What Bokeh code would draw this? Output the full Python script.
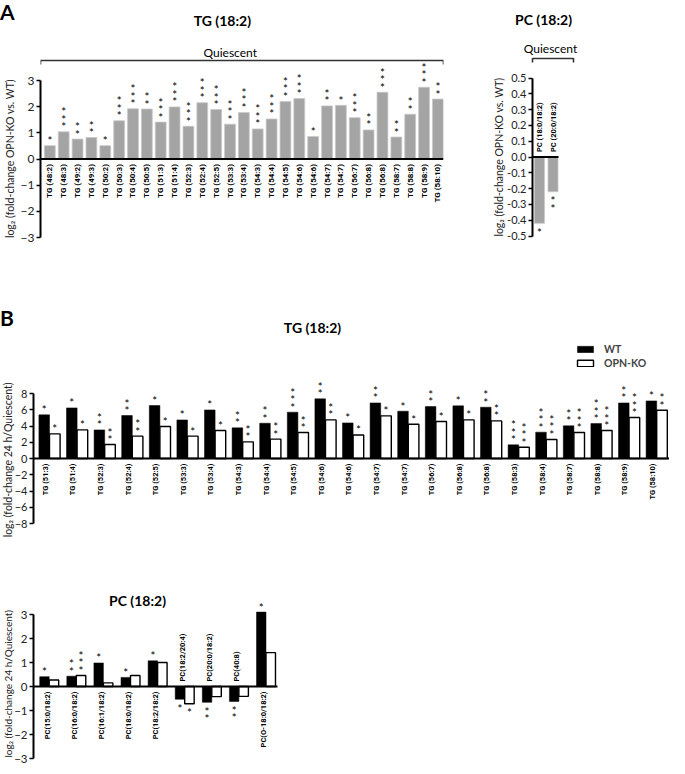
import math
from bokeh.plotting import figure
from bokeh.models import (Range1d, FixedTicker, PrintfTickFormatter, Label,
                          Legend, LegendItem, ColumnDataSource, Span, Div)
from bokeh.layouts import column, row
from bokeh.embed import file_html
from bokeh.resources import INLINE
from bokeh.core.properties import value

# ---------------- data ----------------
# Panel A (left): TG (18:2), quiescent cells, log2 fold-change OPN-KO vs WT
a_tg_labels = ["TG (48:2)", "TG (48:3)", "TG (49:2)", "TG (49:3)", "TG (50:2)",
               "TG (50:3)", "TG (50:4)", "TG (50:5)", "TG (51:3)", "TG (51:4)",
               "TG (52:3)", "TG (52:4)", "TG (52:5)", "TG (53:3)", "TG (53:4)",
               "TG (54:3)", "TG (54:4)", "TG (54:5)", "TG (54:6)", "TG (54:6)",
               "TG (54:7)", "TG (54:7)", "TG (56:7)", "TG (56:8)", "TG (56:8)",
               "TG (58:7)", "TG (58:8)", "TG (58:9)", "TG (58:10)"]
a_tg_values = [0.51, 1.04, 0.76, 0.82, 0.51, 1.46, 1.92, 1.91, 1.41, 1.99,
               1.25, 2.15, 1.89, 1.33, 1.78, 1.15, 1.53, 2.20, 2.31, 0.86,
               2.03, 2.05, 1.58, 1.11, 2.55, 0.84, 1.71, 2.74, 2.29]
a_tg_stars = [1, 3, 2, 2, 1, 3, 3, 2, 3, 3, 3, 3, 3, 3, 3,
              3, 3, 3, 3, 1, 2, 1, 3, 2, 3, 2, 2, 3, 2]

# Panel A (right): PC (18:2), quiescent, log2 fold-change OPN-KO vs WT
a_pc_labels = ["PC (18:0/18:2)", "PC (20:0/18:2)"]
a_pc_values = [-0.42, -0.22]
a_pc_stars = [1, 2]

# Panel B (top): TG (18:2), log2 fold-change 24 h / quiescent
b_tg_labels = ["TG (51:3)", "TG (51:4)", "TG (52:3)", "TG (52:4)", "TG (52:5)",
               "TG (53:3)", "TG (53:4)", "TG (54:3)", "TG (54:4)", "TG (54:5)",
               "TG (54:6)", "TG (54:6)", "TG (54:7)", "TG (54:7)", "TG (56:7)",
               "TG (56:8)", "TG (56:8)", "TG (58:3)", "TG (58:4)", "TG (58:7)",
               "TG (58:8)", "TG (58:9)", "TG (58:10)"]
b_tg_wt = [5.37, 6.23, 3.52, 5.29, 6.52, 4.75, 5.98, 3.77, 4.34, 5.70,
           7.34, 4.38, 6.84, 5.82, 6.39, 6.48, 6.31, 1.68, 3.24, 4.02,
           4.30, 6.84, 7.09]
b_tg_ko = [3.03, 3.52, 1.72, 2.75, 3.93, 2.75, 3.44, 2.05, 2.38, 3.20,
           4.75, 2.90, 5.25, 4.22, 4.55, 4.75, 4.63, 1.39, 2.34, 3.20,
           3.44, 5.04, 5.94]
b_tg_wt_stars = [1, 1, 2, 2, 1, 1, 1, 2, 2, 3, 2, 1, 2, 1, 2, 1, 2, 3, 3, 2, 3, 2, 1]
b_tg_ko_stars = [1, 1, 2, 2, 1, 1, 1, 2, 2, 2, 2, 1, 1, 1, 1, 1, 2, 3, 3, 3, 3, 3, 2]

# Panel B (bottom): PC (18:2), log2 fold-change 24 h / quiescent
b_pc_labels = ["PC(15:0/18:2)", "PC(16:0/18:2)", "PC(16:1/18:2)", "PC(18:0/18:2)",
               "PC(18:2/18:2)", "PC(18:2/20:4)", "PC(20:0/18:2)", "PC(40:8)",
               "PC(O-18:0/18:2)"]
b_pc_wt = [0.41, 0.43, 0.98, 0.38, 1.07, -0.53, -0.66, -0.62, 3.10]
b_pc_ko = [0.27, 0.46, 0.15, 0.46, 1.00, -0.72, -0.42, -0.41, 1.41]
b_pc_wt_stars = [1, 2, 1, 1, 1, 1, 2, 2, 1]
b_pc_ko_stars = [0, 3, 0, 0, 0, 1, 0, 0, 0]

series_names = ["WT", "OPN-KO"]
a_tg_ticks = [-3, -2, -1, 0, 1, 2, 3]
a_pc_ticks = [-0.5, -0.4, -0.3, -0.2, -0.1, 0.0, 0.1, 0.2, 0.3, 0.4, 0.5]
b_tg_ticks = [-8, -6, -4, -2, 0, 2, 4, 6, 8]
b_pc_ticks = [-3, -2, -1, 0, 1, 2, 3]

YLAB_A = "log\u2082 (fold-change OPN-KO vs. WT)"
YLAB_B = "log\u2082 (fold-change  24 h/Quiescent)"

# ---------------- style ----------------
FONT = "Lato"
CAT_FONT = "Roboto"
GREY = "#a4a4a4"


def lin(pa, va, pb, vb):
    k = (vb - va) / (pb - pa)
    return lambda px: va + (px - pa) * k


def base_fig(width, height, xr, yr, left, right):
    p = figure(width=width, height=height, x_range=xr, y_range=yr,
               output_backend="svg", toolbar_location=None, x_axis_location=None,
               min_border_left=left, min_border_right=right,
               min_border_top=0, min_border_bottom=0)
    p.grid.visible = False
    p.outline_line_color = None
    return p


def style_y(p, ticks, label, tick_size="11.5px", fmt=None, label_size="10.5px"):
    ax = p.yaxis[0]
    ax.bounds = (min(ticks), max(ticks))
    ax.ticker = FixedTicker(ticks=ticks)
    ax.minor_tick_line_color = None
    ax.major_tick_out = 4
    ax.major_tick_in = 0
    ax.major_tick_line_width = 1.5
    ax.axis_line_width = 2
    ax.axis_line_color = "black"
    ax.major_tick_line_color = "black"
    ax.major_label_text_font = FONT
    ax.major_label_text_font_size = tick_size
    ax.major_label_text_color = "#222222"
    ax.major_label_standoff = 2
    if label:
        ax.axis_label = label
        ax.axis_label_text_font = FONT
        ax.axis_label_text_font_style = "normal"
        ax.axis_label_text_font_size = label_size
        ax.axis_label_text_color = "#222222"
        ax.axis_label_standoff = 2
    if fmt:
        ax.formatter = PrintfTickFormatter(format=fmt)


def stars(p, xs, vals, counts, size="11.5px"):
    sx, sy, off = [], [], []
    for x, v, n in zip(xs, vals, counts):
        for k in range(n):
            sx.append(x)
            sy.append(v)
            d = 5 + 7.5 * k
            off.append(-d if v >= 0 else d + 4)
    src = ColumnDataSource(dict(x=sx, y=sy, off=off, t=["*"] * len(sx)))
    p.text(x="x", y="y", text="t", y_offset="off", source=src,
           text_font=value(FONT), text_font_size=size,
           text_align="center", text_baseline="middle", text_color="black")


def cat_labels(p, xs, labels, below, size="8px"):
    src = ColumnDataSource(dict(x=xs, y=[0] * len(xs), t=labels,
                                off=[5 if b else -5 for b in below],
                                al=["right" if b else "left" for b in below]))
    p.text(x="x", y="y", text="t", y_offset="off", text_align="al", source=src,
           angle=math.pi / 2, text_baseline="middle",
           text_font=value(CAT_FONT), text_font_style="bold",
           text_font_size=size, text_color="black")


def label(p, x, y, text, size="14px", bold=True, align="center", baseline="middle",
          angle=0.0, color="black"):
    p.add_layout(Label(x=x, y=y, text=text, text_font=FONT, angle=angle,
                       text_font_style="bold" if bold else "normal",
                       text_font_size=size, text_align=align,
                       text_baseline=baseline, text_color=color))


def ylabel(p, x, y, text, size="10.5px"):
    label(p, x, y, text, size=size, bold=False, angle=math.pi / 2, color="#222222")


def bracket(p, x0, x1, y, y_end):
    p.multi_line(xs=[[x0, x0, x1, x1]], ys=[[y_end, y, y, y_end]],
                 line_color="#333333", line_width=1.6)


# ---------------- Panel A left (page x 41..451, y 8..308) ----------------
fx = lin(50.5, 0, 445.3, 28)
fy = lin(80, 3, 237, -3)
pA1 = base_fig(480, 300, Range1d(fx(41), fx(451)), Range1d(fy(308), fy(8)), 33, 37)
style_y(pA1, a_tg_ticks, YLAB_A, tick_size="12px")
xa = list(range(len(a_tg_values)))
pA1.vbar(x=xa, top=a_tg_values, bottom=0, width=0.78, fill_color=GREY,
         line_color="#c8c8c8", line_width=0.8)
pA1.add_layout(Span(location=0, dimension="width", line_color="black", line_width=1.8))
stars(pA1, xa, a_tg_values, a_tg_stars)
cat_labels(pA1, xa, a_tg_labels, [True] * len(xa))
bracket(pA1, fx(41), fx(451), fy(60), fy(64))
label(pA1, fx(234), fy(52), "Quiescent", size="12px", bold=False)
label(pA1, fx(226), fy(20), "TG (18:2)", size="14px")

# ---------------- Panel A right (frame page x 488..677, axis fixed at x=540) ----------------
gx = lin(547, 0, 560.5, 1)
gy = lin(77.5, 0.5, 235.5, -0.5)
pA2 = base_fig(189, 300, Range1d(gx(488), gx(677)), Range1d(gy(308), gy(8)), 0, 0)
style_y(pA2, a_pc_ticks, None, tick_size="11px", fmt="%.1f")
pA2.yaxis[0].fixed_location = gx(540)
ylabel(pA2, gx(506), 0.0, YLAB_A)
xp = list(range(len(a_pc_values)))
pA2.vbar(x=xp, top=a_pc_values, bottom=0, width=0.74, fill_color=GREY,
         line_color="#c8c8c8", line_width=0.8)
pA2.segment(x0=[gx(540)], x1=[gx(566)], y0=[0], y1=[0], line_color="black", line_width=1.8)
stars(pA2, xp, a_pc_values, a_pc_stars)
cat_labels(pA2, xp, a_pc_labels, [False] * len(xp), size="7.5px")
bracket(pA2, gx(540), gx(581), gy(58), gy(62))
label(pA2, gx(558), gy(48), "Quiescent", size="12px", bold=False)
label(pA2, gx(551), gy(19), "PC (18:2)", size="14px")

# ---------------- Panel B top (frame page x 8..677, y 308..541, axis at x=41) ----------------
hx = lin(57, 0, 84.6, 1)
hy = lin(393, 8, 523, -8)
pB1 = base_fig(669, 233, Range1d(hx(8), hx(677)), Range1d(hy(541), hy(308)), 0, 0)
style_y(pB1, b_tg_ticks, None, tick_size="11px")
pB1.yaxis[0].fixed_location = hx(41)
ylabel(pB1, hx(15), hy(458), YLAB_B)
xb = list(range(len(b_tg_wt)))
bw = 0.384
r_wt = pB1.vbar(x=[x - bw / 2 for x in xb], top=b_tg_wt, bottom=0, width=bw,
                fill_color="black", line_color="black", line_width=0.5)
r_ko = pB1.vbar(x=[x + bw / 2 for x in xb], top=b_tg_ko, bottom=0, width=bw,
                fill_color="white", line_color="black", line_width=1.4)
pB1.segment(x0=[hx(41)], x1=[hx(677)], y0=[0], y1=[0], line_color="black", line_width=1.8)
stars(pB1, [x - bw / 2 for x in xb], b_tg_wt, b_tg_wt_stars)
stars(pB1, [x + bw / 2 for x in xb], b_tg_ko, b_tg_ko_stars)
cat_labels(pB1, [x - 0.15 for x in xb], b_tg_labels, [True] * len(xb), size="7.5px")
label(pB1, hx(320), hy(327), "TG (18:2)", size="14px")
legend = Legend(items=[LegendItem(label=series_names[0], renderers=[r_wt]),
                       LegendItem(label=series_names[1], renderers=[r_ko])],
                location=(583 - 8, 541 - 369), orientation="vertical",
                glyph_width=20, glyph_height=8, label_standoff=9, spacing=1,
                padding=0, margin=0, border_line_color=None,
                background_fill_alpha=0, label_text_font=FONT,
                label_text_font_style="bold", label_text_font_size="10.5px",
                label_height=13)
pB1.add_layout(legend)

# ---------------- Panel B bottom (frame page x 8..677, y 541..766, axis at x=41) ----------------
kx = lin(56.7, 0, 83.8, 1)
ky = lin(614, 3, 758, -3)
pB2 = base_fig(669, 225, Range1d(kx(8), kx(677)), Range1d(ky(766), ky(541)), 0, 0)
style_y(pB2, b_pc_ticks, None, tick_size="11.5px")
pB2.yaxis[0].fixed_location = kx(41)
ylabel(pB2, kx(15), ky(682), YLAB_B, size="10px")
xc = list(range(len(b_pc_wt)))
cw = 0.35
pB2.vbar(x=[x - cw / 2 for x in xc], top=b_pc_wt, bottom=0, width=cw,
         fill_color="black", line_color="black", line_width=0.5)
pB2.vbar(x=[x + cw / 2 for x in xc], top=b_pc_ko, bottom=0, width=cw,
         fill_color="white", line_color="black", line_width=1.4)
pB2.segment(x0=[kx(41)], x1=[kx(285)], y0=[0], y1=[0], line_color="black", line_width=1.8)
stars(pB2, [x - cw / 2 for x in xc], b_pc_wt, b_pc_wt_stars)
stars(pB2, [x + cw / 2 for x in xc], b_pc_ko, b_pc_ko_stars)
cat_labels(pB2, [x - 0.08 for x in xc], b_pc_labels,
           [max(w, k) > 0 for w, k in zip(b_pc_wt, b_pc_ko)], size="7.5px")
label(pB2, kx(145), ky(600), "PC (18:2)", size="14px")

# panel letters (outside the plot frames); this block also provides the 8px top offset
letters = Div(text=('<span style="position:absolute;left:0px;top:-3px;font-family:Lato;'
                    'font-weight:bold;font-size:21px;z-index:10;">A</span>'
                    '<span style="position:absolute;left:0px;top:303px;font-family:Lato;'
                    'font-weight:bold;font-size:21px;z-index:10;">B</span>'),
              width=10, height=8, margin=0)

layout = column(letters, row(pA1, pA2), pB1, pB2)
open("out.html", "w").write(file_html(layout, INLINE))
